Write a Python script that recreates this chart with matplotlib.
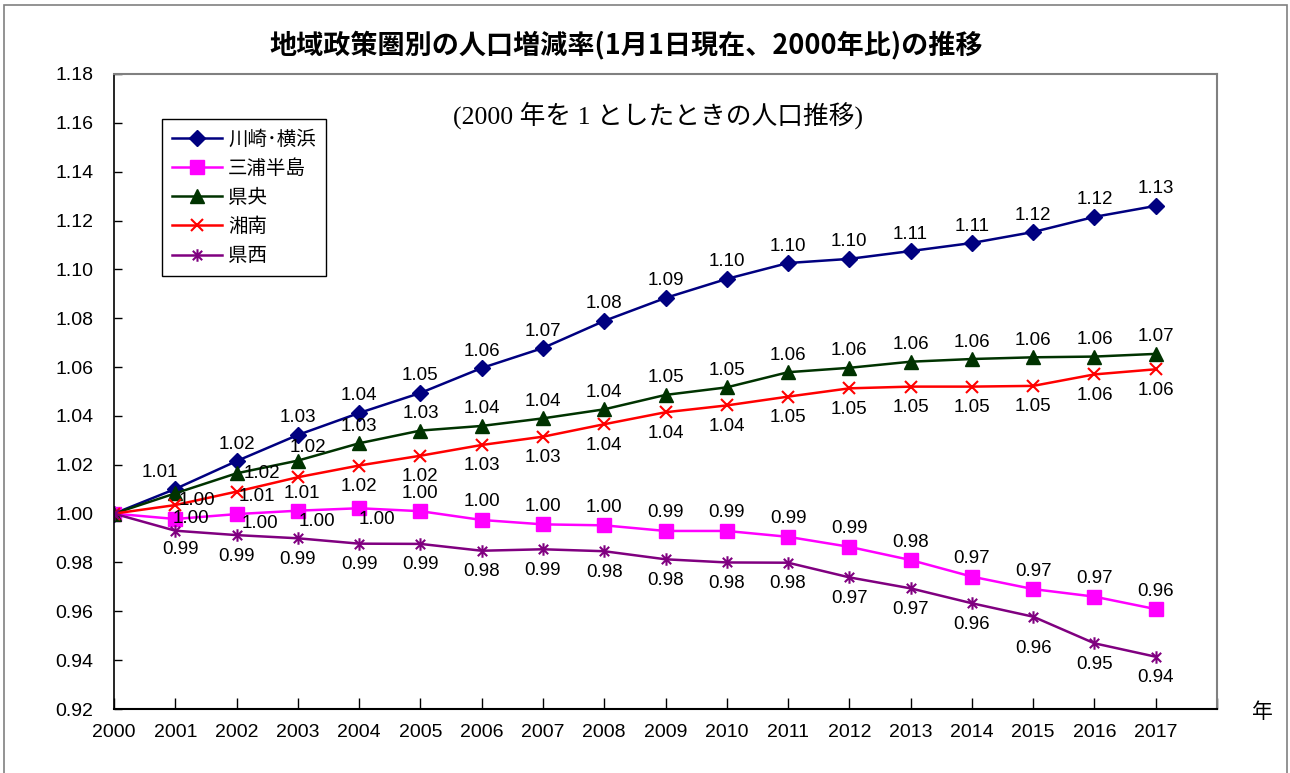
import matplotlib
matplotlib.use("Agg")
import matplotlib.pyplot as plt
from matplotlib.path import Path
from matplotlib.patches import Rectangle

plt.rcParams['font.family'] = ['Liberation Sans', 'Noto Sans CJK JP', 'DejaVu Sans']

years = list(range(2000, 2018))
names = ['川崎･横浜', '三浦半島', '県央', '湘南', '県西']
kawasaki = [1.000, 1.0101, 1.0215, 1.0322, 1.0412, 1.0494, 1.0596, 1.0678, 1.0789,
            1.0883, 1.0961, 1.1026, 1.1043, 1.1075, 1.1108, 1.1153, 1.1215, 1.1260]
miura = [1.000, 0.9978, 0.9998, 1.0012, 1.0022, 1.0010, 0.9974, 0.9956, 0.9952,
         0.9929, 0.9929, 0.9905, 0.9864, 0.9810, 0.9742, 0.9691, 0.9660, 0.9609]
kenou = [1.000, 1.0083, 1.0165, 1.0217, 1.0288, 1.0340, 1.0359, 1.0390, 1.0427,
         1.0486, 1.0517, 1.0579, 1.0597, 1.0622, 1.0633, 1.0640, 1.0643, 1.0654]
shonan = [1.000, 1.0035, 1.0090, 1.0149, 1.0197, 1.0237, 1.0281, 1.0315, 1.0366,
          1.0415, 1.0443, 1.0479, 1.0513, 1.0520, 1.0520, 1.0523, 1.0570, 1.0591]
kensei = [1.000, 0.9930, 0.9912, 0.9899, 0.9877, 0.9876, 0.9848, 0.9854, 0.9846,
          0.9813, 0.9800, 0.9799, 0.9739, 0.9694, 0.9633, 0.9578, 0.9469, 0.9414]
yticks = [0.92, 0.94, 0.96, 0.98, 1.00, 1.02, 1.04, 1.06, 1.08, 1.10, 1.12, 1.14, 1.16, 1.18]

# star marker like excel: vertical bar + X
star = Path([(0, -1), (0, 1), (-0.75, -0.75), (0.75, 0.75), (-0.75, 0.75), (0.75, -0.75)],
            [Path.MOVETO, Path.LINETO] * 3)

series = [
    (kawasaki, '#000080', 'D', 8, (0, 17)),
    (miura, '#FF00FF', 's', 10, (0, 18)),
    (kenou, '#003300', '^', 10, (0, 17)),
    (shonan, '#FF0000', 'x', 9, (0, -21)),
    (kensei, '#800080', star, 9, (0, -21)),
]
# label offsets (pixels) that differ from the default of each series
special = {
    0: {2001: (-15, 16)},
    1: {2001: (16, 0), 2002: (23, -9), 2003: (19, -11), 2004: (18, -11)},
    2: {2001: (-15, 16), 2002: (25, 0), 2003: (10, 13)},
    3: {2001: (22, 5), 2002: (20, -5), 2003: (4, -16)},
    4: {2001: (5, -19), 2015: (0, -32)},
}

fig = plt.figure(figsize=(12.9, 7.73), dpi=100)
ax = fig.add_axes([114/1290, 1-709/773, (1217-114)/1290, (709-74)/773])

for i, (vals, col, mk, ms, off) in enumerate(series):
    ax.plot(years, vals, color=col, lw=1.8, marker=mk, markersize=ms,
            markeredgewidth=1.5 if i >= 3 else 1, label=names[i])
    for yr, v in zip(years[1:], vals[1:]):
        if i == 2 and yr == 2001:
            continue  # hidden under the 川崎・横浜 label in the original
        dx, dy = special[i].get(yr, off)
        ax.annotate(f"{v:.2f}", (yr, v), xytext=(dx, dy), textcoords='offset pixels',
                    ha='center', va='center', fontsize=13.5, color='black')

ax.set_xlim(2000, 2018)
ax.set_ylim(0.92, 1.18)
ax.set_xticks(years + [2018])
ax.set_xticklabels([str(y) for y in years] + [''])
ax.set_yticks(yticks)
ax.set_yticklabels([f"{t:.2f}" for t in yticks])
ax.tick_params(axis='both', labelsize=14)
ax.tick_params(axis='x', direction='in', length=8, pad=11, width=1)
ax.tick_params(axis='y', direction='in', length=6, pad=15, width=1)
ax.spines['top'].set_color('#808080')
ax.spines['right'].set_color('#808080')
ax.spines['top'].set_linewidth(1.5)
ax.spines['right'].set_linewidth(1.5)
ax.spines['left'].set_linewidth(1.2)
ax.spines['bottom'].set_linewidth(1.5)

leg = ax.legend(loc='upper left', bbox_to_anchor=((162-114)/1103, (709-119)/635),
                prop={'family': ['Noto Sans CJK JP'], 'size': 14},
                fancybox=False, edgecolor='black', framealpha=1, borderaxespad=0,
                handlelength=2.6, handletextpad=0.3, labelspacing=0.42, borderpad=0.5)
leg.get_frame().set_linewidth(1)

fig.text(626/1290, 1-45/773, '地域政策圏別の人口増減率(1月1日現在、2000年比)の推移',
         ha='center', va='center', fontsize=19.5, fontweight='bold',
         family=['Noto Sans CJK JP'])
fig.text(658/1290, 1-115/773, '(2000 年を 1 としたときの人口推移)',
         ha='center', va='center', fontsize=18.5,
         family=['Liberation Serif', 'Noto Sans CJK JP'])
fig.text(1262/1290, 1-712/773, '年', ha='center', va='center', fontsize=15,
         family=['Noto Sans CJK JP'])

fig.patches.append(Rectangle((4/1290, -0.05), (1287-4)/1290, 1.05-5/773, fill=False,
                             edgecolor='#808080', lw=1.2, transform=fig.transFigure))

fig.savefig('out.png', dpi=100)
